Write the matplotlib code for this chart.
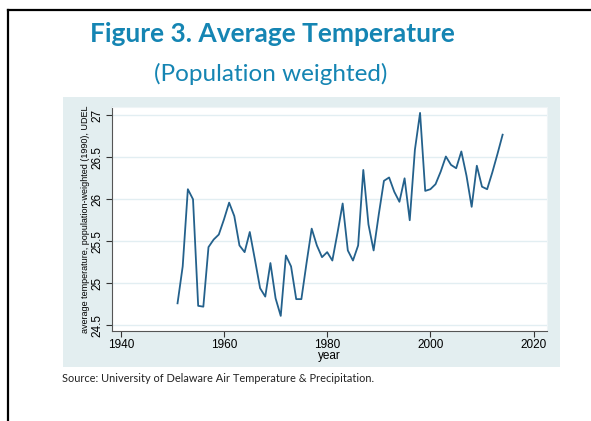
import matplotlib.pyplot as plt
from matplotlib.patches import Rectangle
from matplotlib.lines import Line2D

years = list(range(1951, 2015))
temps = [24.76, 25.20, 26.12, 26.00, 24.73, 24.72, 25.43, 25.52, 25.58, 25.76,
         25.96, 25.80, 25.45, 25.37, 25.61, 25.28, 24.94, 24.84, 25.24, 24.82,
         24.61, 25.33, 25.20, 24.81, 24.81, 25.24, 25.65, 25.45, 25.31, 25.37,
         25.27, 25.60, 25.95, 25.39, 25.27, 25.45, 26.35, 25.70, 25.39, 25.82,
         26.22, 26.26, 26.09, 25.97, 26.25, 25.75, 26.59, 27.03, 26.10, 26.12,
         26.18, 26.33, 26.51, 26.41, 26.37, 26.57, 26.28, 25.91, 26.40, 26.15,
         26.12, 26.32, 26.54, 26.77]
xticks = [1940, 1960, 1980, 2000, 2020]
yticks = [24.5, 25, 25.5, 26, 26.5, 27]
ytick_labels = ["24.5", "25", "25.5", "26", "26.5", "27"]

W, H = 591, 421
fig = plt.figure(figsize=(W / 100, H / 100), dpi=100)
fig.patch.set_facecolor("white")

def fx(px):
    return px / W

def fy(py):
    return 1 - py / H

# slide border (top and left)
fig.add_artist(Line2D([fx(8), 1], [fy(10), fy(10)], color="black", lw=1.6))
fig.add_artist(Line2D([fx(8), fx(8)], [fy(10), 0], color="black", lw=1.6))

# graph region
fig.add_artist(Rectangle((fx(63), fy(367)), fx(560) - fx(63), fy(97) - fy(367),
                         facecolor="#e3eef0", edgecolor="none", zorder=0))

fig.text(fx(272), fy(34), "Figure 3. Average Temperature", ha="center", va="center",
         fontsize=19, fontweight="bold", color="#1585b3", family="Lato")
fig.text(fx(271), fy(74), "(Population weighted)", ha="center", va="center",
         fontsize=17.5, color="#1585b3", family="Lato")
fig.text(fx(62), fy(378), "Source: University of Delaware Air Temperature & Precipitation.",
         ha="left", va="center", fontsize=7.9, color="#222222", family="Lato")

ax = fig.add_axes([fx(112), fy(331), fx(547) - fx(112), fy(107) - fy(331)])
ax.set_facecolor("white")
ax.plot(years, temps, color="#24618c", lw=1.3)
ax.set_xlim(1938.3, 2022.6)
ax.set_ylim(24.43, 27.1)
ax.set_xticks(xticks)
ax.set_yticks(yticks)
ax.set_yticklabels(ytick_labels, rotation=90, va="center")
ax.grid(axis="y", color="#e2eef2", lw=1)
ax.set_axisbelow(True)
for s in ["top", "right"]:
    ax.spines[s].set_color("#eef4f6")
for s in ["left", "bottom"]:
    ax.spines[s].set_color("#555555")
    ax.spines[s].set_linewidth(0.8)
ax.tick_params(colors="#333333", labelsize=8.5, length=4, width=0.8, pad=2,
               labelcolor="black")
for lab in ax.get_xticklabels() + ax.get_yticklabels():
    lab.set_family("Liberation Sans")
ax.set_xlabel("year", fontsize=8.5, family="Liberation Sans", labelpad=-1)
ax.set_ylabel("average temperature, population-weighted (1990), UDEL",
              fontsize=6.5, family="Liberation Sans", labelpad=1)

fig.savefig("out.png", dpi=100)
